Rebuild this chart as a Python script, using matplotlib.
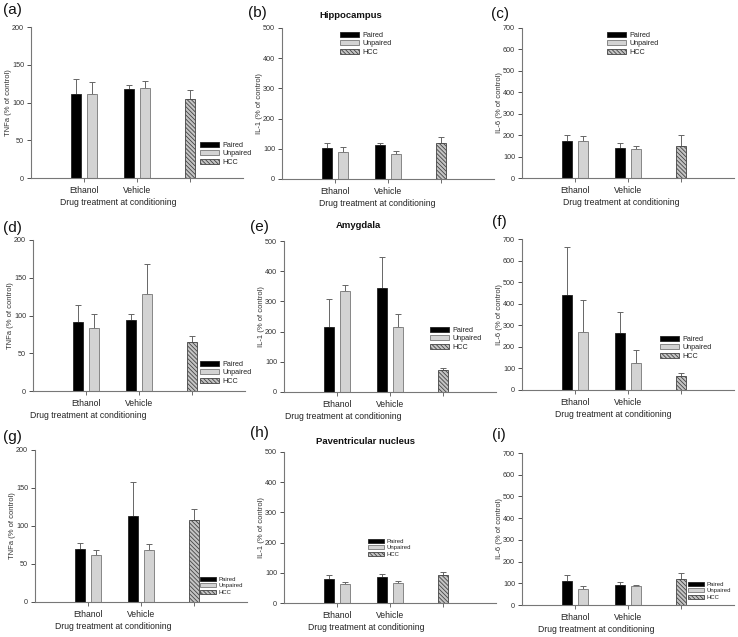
import numpy as np
import matplotlib
matplotlib.use("Agg")
import matplotlib.pyplot as plt
from matplotlib.patches import Patch

plt.rcParams['font.family'] = ['Liberation Sans', 'DejaVu Sans']
plt.rcParams['hatch.linewidth'] = 0.6
plt.rcParams['hatch.color'] = '#333333'

# data: groups Ethanol / Vehicle, plus HCC
groups = ["Ethanol", "Vehicle"]
series = ["Paired", "Unpaired", "HCC"]
panel_tags = ["(a)", "(b)", "(c)", "(d)", "(e)", "(f)", "(g)", "(h)", "(i)"]
region_titles = ["Hippocampus", "Amygdala", "Paventricular nucleus"]
ylabels = ["TNFa (% of control)", "IL-1 (% of control)", "IL-6 (% of control)"]
ymax = [200, 500, 700]

paired_mean = [[111, 118], [103, 111], [174, 140],
               [92, 94], [214, 346], [440, 266],
               [70, 113], [78, 85], [112, 93]]
paired_err = [[20, 5], [15, 7], [28, 23],
              [22, 8], [95, 100], [223, 96],
              [8, 45], [14, 10], [24, 15]]
unpaired_mean = [[111, 119], [90, 82], [174, 135],
                 [83, 128], [336, 215], [270, 125],
                 [62, 68], [63, 65], [75, 86]]
unpaired_err = [[16, 10], [15, 10], [23, 14],
                [19, 40], [17, 42], [147, 59],
                [7, 8], [6, 9], [13, 7]]
hcc_mean = [105, 118, 151, 65, 72, 65, 108, 92, 120]
hcc_err = [11, 21, 51, 8, 7, 14, 15, 12, 28]

W, H = 738, 637
fig = plt.figure(figsize=(W / 100, H / 100), dpi=100)

# layout in pixels: y-axis x, top y, bottom y, legend x, legend y, legend fontsize, xlabel frac
layout = [
    (31, 27, 178, 200, 142, 5.2, 0.41),
    (282, 28, 179, 340, 32, 5.2, 0.45),
    (522, 28, 178, 607, 32, 5.2, 0.47),
    (33, 240, 391, 200, 361, 5.2, 0.26),
    (284, 241, 392, 430, 327, 5.2, 0.28),
    (522, 239, 390, 660, 336, 5.2, 0.43),
    (35, 450, 602, 200, 577, 4.3, 0.37),
    (284, 452, 603, 368, 539, 4.3, 0.39),
    (522, 453, 605, 688, 582, 4.3, 0.35),
]
tag_pos = [(3, 10), (248, 13), (491, 14), (3, 228), (250, 227), (492, 222),
           (3, 437), (250, 433), (492, 435)]
title_pos = [(351, 15), (358, 225), (366, 442)]

bw = 0.18
off = 0.15
x = np.array([1, 2])
hatch = '\\\\\\\\\\\\\\\\'

for i in range(9):
    lx, ty, by, legx, legy, legfs, xlf = layout[i]
    ax = fig.add_axes([lx / W, 1 - by / H, 212 / W, (by - ty) / H])
    col = i % 3
    ax.bar(x - off, paired_mean[i], bw, color='black', edgecolor='#222222', linewidth=0.6, zorder=2)
    ax.bar(x + off, unpaired_mean[i], bw, color='#d3d3d3', edgecolor='#777777', linewidth=0.6, zorder=2)
    ax.bar([3], [hcc_mean[i]], bw, color='#c4c4c4', edgecolor='#444444', linewidth=0.6,
           hatch=hatch, zorder=2)
    ax.errorbar(x - off, paired_mean[i], yerr=[[0, 0], paired_err[i]], fmt='none',
                ecolor='#666666', elinewidth=0.7, capsize=2.5, capthick=0.7, zorder=1)
    ax.errorbar(x + off, unpaired_mean[i], yerr=[[0, 0], unpaired_err[i]], fmt='none',
                ecolor='#666666', elinewidth=0.7, capsize=2.5, capthick=0.7, zorder=1)
    ax.errorbar([3], [hcc_mean[i]], yerr=[[0], [hcc_err[i]]], fmt='none',
                ecolor='#666666', elinewidth=0.7, capsize=2.5, capthick=0.7, zorder=1)

    ax.set_xlim(0, 4)
    ax.set_ylim(0, ymax[col])
    ax.set_yticks(np.linspace(0, ymax[col], 5 if col == 0 else (6 if col == 1 else 8)))
    ax.set_xticks([1, 2, 3])
    ax.set_xticklabels(groups + [""], fontsize=6.2, color='#222222')
    ax.tick_params(axis='y', labelsize=5.2, colors='#333333', length=3, width=0.6, pad=2)
    ax.tick_params(axis='x', length=3, width=0.6, colors='#555555', labelcolor='#222222', pad=2.5)
    for s in ['top', 'right']:
        ax.spines[s].set_visible(False)
    for s in ['left', 'bottom']:
        ax.spines[s].set_color('#777777')
        ax.spines[s].set_linewidth(0.8)
    ax.set_ylabel(ylabels[col], fontsize=5.5, color='#333333')
    ax.yaxis.set_label_coords(-19 / 212, 0.5)
    ax.set_xlabel("Drug treatment at conditioning", fontsize=6.2, color='#222222')
    ax.xaxis.set_label_coords(xlf, -20 / (by - ty))

    handles = [Patch(facecolor='black', edgecolor='#222222', linewidth=0.6),
               Patch(facecolor='#d3d3d3', edgecolor='#777777', linewidth=0.6),
               Patch(facecolor='#c4c4c4', edgecolor='#444444', linewidth=0.6, hatch=hatch)]
    fig.legend(handles, series, loc='upper left', bbox_to_anchor=(legx / W, 1 - legy / H),
               frameon=False, fontsize=legfs, handlelength=2.6, handleheight=0.65,
               labelspacing=0.2, handletextpad=0.5, borderpad=0, borderaxespad=0,
               labelcolor='#222222')

    fig.text(tag_pos[i][0] / W, 1 - tag_pos[i][1] / H, panel_tags[i], fontsize=11,
             va='center', ha='left', color='#111111')

for k in range(3):
    fig.text(title_pos[k][0] / W, 1 - title_pos[k][1] / H, region_titles[k], fontsize=6.8,
             fontweight='bold', ha='center', va='center', color='#111111')

fig.savefig("out.png", dpi=100)
